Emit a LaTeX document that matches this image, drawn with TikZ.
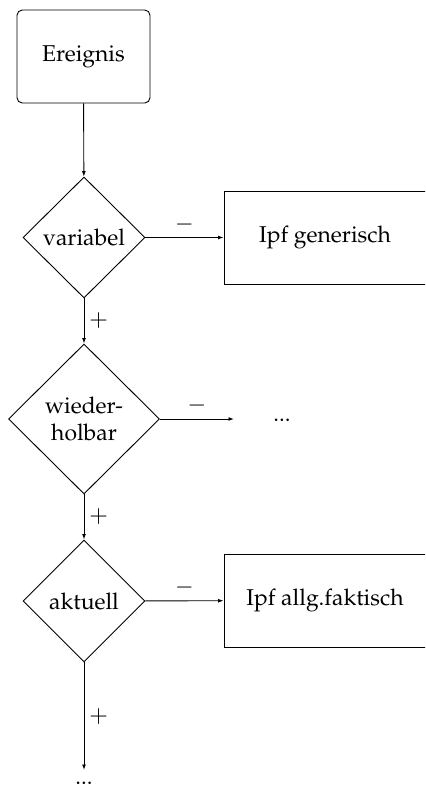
\documentclass[tikz,border=0pt]{standalone}
\usepackage[T1]{fontenc}
\usepackage{mathpazo}
\usetikzlibrary{shapes.geometric,arrows.meta}
\def\u{0.4367pt}
\tikzset{
  startbox/.style={draw, rounded corners=2.3pt, minimum width={133*\u}, minimum height={93*\u}, inner sep=0pt},
  decide/.style={draw, diamond, aspect=1, inner sep=0pt, align=center},
  outbox/.style={draw, minimum width={202*\u}, minimum height={93*\u}, inner sep=0pt},
  conn/.style={-{Latex[length=2.4pt,width=1.7pt]}},
  lab/.style={inner sep=2pt},
}
\begin{document}
\begin{tikzpicture}[x=\u, y=-\u]
\useasboundingbox (0,0) rectangle (425,788);
\clip (0,0) rectangle (425,788);
\node[startbox] (E) at (83.5,56.5) {Ereignis};
\node[decide, minimum width={122*\u}, minimum height={121*\u}] (d1) at (84,237.5) {variabel};
\node[outbox] (b1) at (325,237.5) {Ipf generisch};
\node[decide, minimum width={151*\u}, minimum height={150*\u}] (d2) at (84,419) {wieder-\\holbar};
\node[anchor=base, inner sep=0pt] (dots1) at (282,421) {...};
\node[decide, minimum width={122*\u}, minimum height={122*\u}] (d3) at (84,601) {aktuell};
\node[outbox] (b2) at (325,600.5) {Ipf allg.faktisch};
\coordinate (end1) at (234,419);
\coordinate (end2) at (84,770);
\node[anchor=base, inner sep=0pt] (dots2) at (84,784) {...};
\draw[conn] (E) -- (d1);
\draw[conn] (d1) -- node[lab, above] {$-$} (b1);
\draw[conn] (d1) -- node[lab, right] {$+$} (d2);
\draw[conn] (d2.east) -- node[lab, above] {$-$} (end1);
\draw[conn] (d2) -- node[lab, right] {$+$} (d3);
\draw[conn] (d3) -- node[lab, above] {$-$} (b2);
\draw[conn] (d3) -- node[lab, right] {$+$} (end2);
\end{tikzpicture}
\end{document}
